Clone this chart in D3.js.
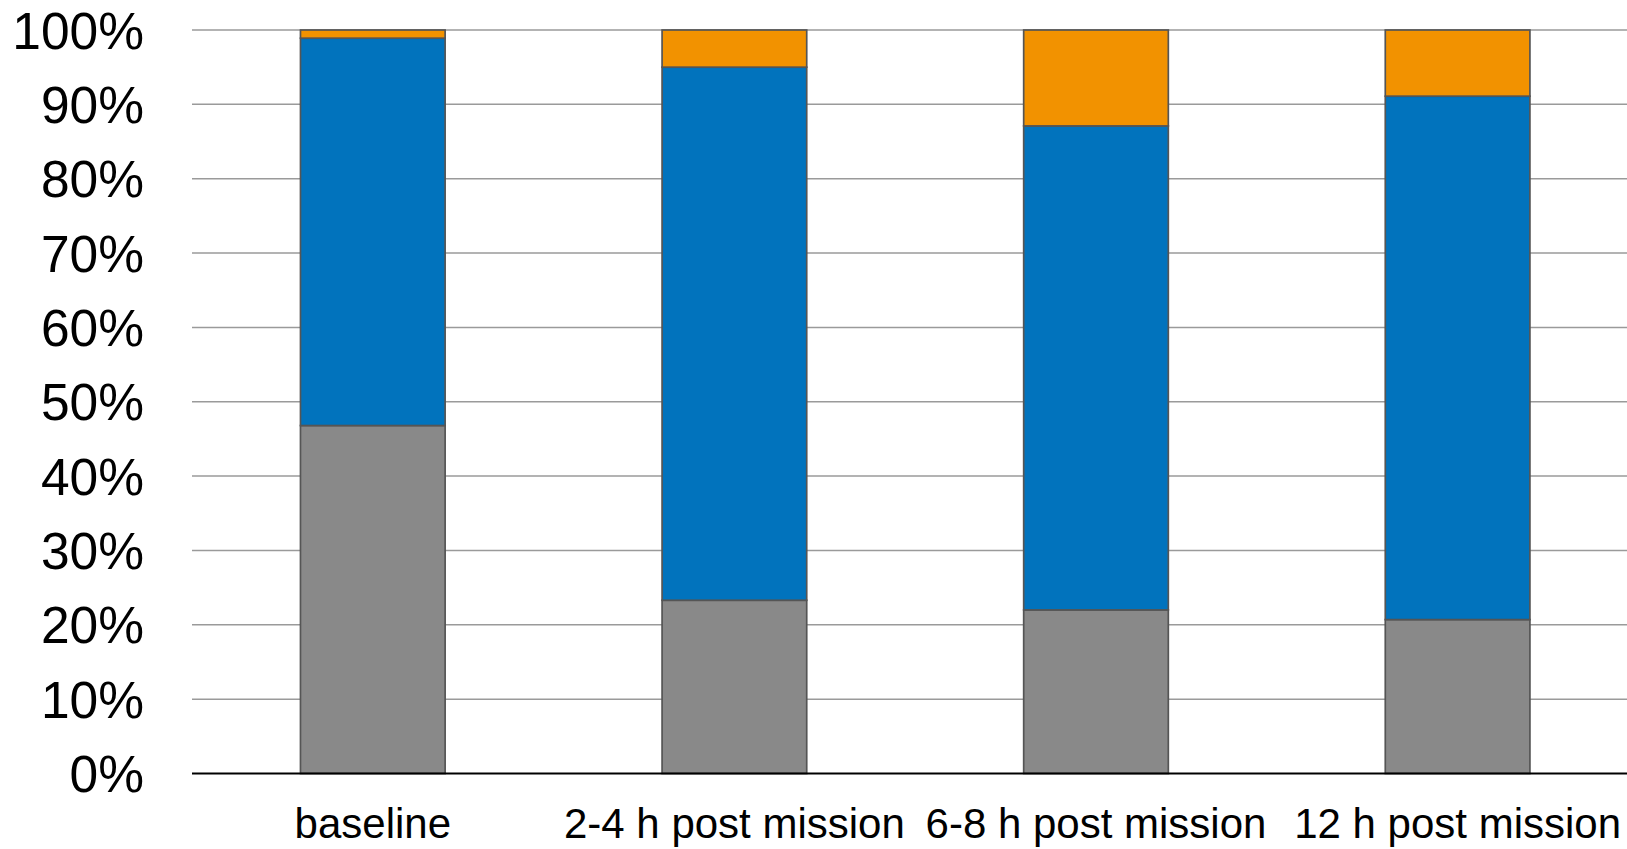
<!DOCTYPE html>
<html>
<head>
<meta charset="utf-8">
<script src="https://cdn.jsdelivr.net/npm/d3@7/dist/d3.min.js"></script>
<style>
  html, body { margin: 0; padding: 0; background: #fff; overflow: hidden; }
  svg { display: block; font-family: "Liberation Sans", Arial, sans-serif; }
</style>
</head>
<body>
<svg id="chart" width="1627" height="849"></svg>
<script>
// Time points and stacked shares (percent) per group
const categories = ["baseline", "2-4 h post mission", "6-8 h post mission", "12 h post mission"];
const seriesNames = ["gray", "blue", "orange"];
const grayValues = [46.8, 23.3, 22.0, 20.7];
const blueValues = [52.1, 71.7, 65.1, 70.4];
const orangeValues = [1.1, 5.0, 12.9, 8.9];
const yTicks = [0, 10, 20, 30, 40, 50, 60, 70, 80, 90, 100];

const colors = { gray: "#898989", blue: "#0173BD", orange: "#F29200" };

const rows = categories.map((c, i) => ({
  category: c, gray: grayValues[i], blue: blueValues[i], orange: orangeValues[i]
}));

(function draw() {
  const svg = d3.select("#chart");
  const plotLeft = 192, plotTop = 30, plotBottom = 773.5;
  const step = 361.6;

  const x = d3.scaleBand()
    .domain(categories)
    .range([plotLeft, plotLeft + step * categories.length])
    .paddingInner(0.6)
    .paddingOuter(0.3);

  const y = d3.scaleLinear().domain([0, 100]).range([plotBottom, plotTop]);

  // Horizontal gridlines
  svg.append("g")
    .selectAll("line")
    .data(yTicks.filter(t => t > 0))
    .join("line")
    .attr("x1", plotLeft).attr("x2", 1627)
    .attr("y1", d => y(d)).attr("y2", d => y(d))
    .attr("stroke", "#9a9a9a").attr("stroke-width", 1.5);

  // Y tick labels
  svg.append("g")
    .selectAll("text")
    .data(yTicks)
    .join("text")
    .attr("x", 144)
    .attr("y", d => y(d))
    .attr("dy", "0.36em")
    .attr("text-anchor", "end")
    .attr("font-size", 51.5)
    .attr("fill", "#000")
    .text(d => d + "%");

  // Stacked bars
  const layers = d3.stack().keys(seriesNames)(rows);

  svg.append("g")
    .selectAll("g")
    .data(layers)
    .join("g")
    .attr("fill", d => colors[d.key])
    .selectAll("rect")
    .data(d => d)
    .join("rect")
    .attr("x", d => x(d.data.category))
    .attr("width", x.bandwidth())
    .attr("y", d => y(d[1]))
    .attr("height", d => y(d[0]) - y(d[1]))
    .attr("stroke", "#555555")
    .attr("stroke-width", 1.7);

  // Baseline axis
  svg.append("line")
    .attr("x1", plotLeft).attr("x2", 1627)
    .attr("y1", y(0)).attr("y2", y(0))
    .attr("stroke", "#000").attr("stroke-width", 2.2);

  // Category labels
  svg.append("g")
    .selectAll("text")
    .data(categories)
    .join("text")
    .attr("x", d => x(d) + x.bandwidth() / 2)
    .attr("y", 838)
    .attr("text-anchor", "middle")
    .attr("font-size", 42)
    .attr("fill", "#000")
    .text(d => d);
})();
</script>
</body>
</html>
